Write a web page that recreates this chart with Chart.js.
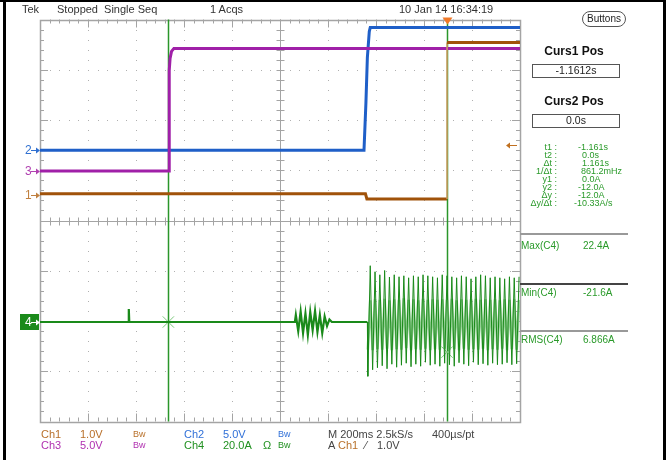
<!DOCTYPE html>
<html><head><meta charset="utf-8">
<script src="https://cdn.jsdelivr.net/npm/chart.js@4/dist/chart.umd.min.js"></script>
<style>
body{margin:0;background:#fff;}
#wrap{position:relative;width:666px;height:460px;overflow:hidden;background:#fff;font-family:"Liberation Sans",Arial,sans-serif;}
canvas{position:absolute;left:0;top:0;}
.t{position:absolute;white-space:pre;font-size:11px;line-height:12px;color:#333;}
.s{position:absolute;white-space:pre;font-size:10px;line-height:10px;color:#2a9a2a;}
.g{position:absolute;white-space:pre;font-size:9px;line-height:8px;color:#2a9a2a;}
.bar{position:absolute;background:#000;}
.box{position:absolute;border:1.5px solid #555;text-align:center;font-size:10.5px;line-height:11px;color:#222;box-sizing:border-box;}
.hd{position:absolute;font-weight:bold;font-size:12px;line-height:12px;color:#111;width:100px;text-align:center;}
.sep{position:absolute;left:520px;width:108px;}
.bw{font-size:9px;}
</style></head><body>
<div id="wrap">
<canvas id="c" width="666" height="460"></canvas>

<div class="bar" style="left:0;top:0;width:666px;height:2px"></div>
<div class="bar" style="left:3px;top:0;width:3px;height:460px"></div>
<div class="bar" style="left:663px;top:0;width:3px;height:460px"></div>

<div class="t" style="left:22px;top:3px">Tek</div>
<div class="t" style="left:57px;top:3px">Stopped  Single Seq</div>
<div class="t" style="left:210px;top:3px">1 Acqs</div>
<div class="t" style="left:399px;top:3px">10 Jan 14 16:34:19</div>

<div class="box" style="left:582px;top:11px;width:44px;height:16px;border-radius:8px;border-width:1px;font-size:10px;line-height:14px">Buttons</div>

<div class="hd" style="left:524px;top:45px">Curs1 Pos</div>
<div class="box" style="left:532px;top:64px;width:88px;height:14px">-1.1612s</div>
<div class="hd" style="left:524px;top:95px">Curs2 Pos</div>
<div class="box" style="left:532px;top:114px;width:88px;height:14px">0.0s</div>

<div class="g" style="left:500px;width:57px;text-align:right;top:143px">t1 :</div>
<div class="g" style="left:500px;width:57px;text-align:right;top:151px">t2 :</div>
<div class="g" style="left:500px;width:57px;text-align:right;top:159px">Δt :</div>
<div class="g" style="left:500px;width:57px;text-align:right;top:167px">1/Δt :</div>
<div class="g" style="left:500px;width:57px;text-align:right;top:175px">y1 :</div>
<div class="g" style="left:500px;width:57px;text-align:right;top:183px">y2 :</div>
<div class="g" style="left:500px;width:57px;text-align:right;top:191px">Δy :</div>
<div class="g" style="left:500px;width:57px;text-align:right;top:199px">Δy/Δt :</div>
<div class="g" style="left:578px;top:143px">-1.161s</div>
<div class="g" style="left:582px;top:151px">0.0s</div>
<div class="g" style="left:582px;top:159px">1.161s</div>
<div class="g" style="left:581px;top:167px">861.2mHz</div>
<div class="g" style="left:582px;top:175px">0.0A</div>
<div class="g" style="left:578px;top:183px">-12.0A</div>
<div class="g" style="left:578px;top:191px">-12.0A</div>
<div class="g" style="left:574px;top:199px">-10.33A/s</div>

<div class="sep" style="top:233px;height:2px;background:#999"></div>
<div class="s" style="left:521px;top:241px">Max(C4)</div>
<div class="s" style="left:583px;top:241px">22.4A</div>
<div class="sep" style="top:283px;height:1.5px;background:#444"></div>
<div class="s" style="left:521px;top:288px">Min(C4)</div>
<div class="s" style="left:583px;top:288px">-21.6A</div>
<div class="sep" style="top:330px;height:2px;background:#999"></div>
<div class="s" style="left:521px;top:335px">RMS(C4)</div>
<div class="s" style="left:583px;top:335px">6.866A</div>

<div class="t" style="left:41px;top:428px;color:#b8702a">Ch1</div>
<div class="t" style="left:80px;top:428px;color:#b8702a">1.0V</div>
<div class="t bw" style="left:133px;top:428px;color:#b8702a">Bw</div>
<div class="t" style="left:184px;top:428px;color:#3070d8">Ch2</div>
<div class="t" style="left:223px;top:428px;color:#3070d8">5.0V</div>
<div class="t bw" style="left:278px;top:428px;color:#3070d8">Bw</div>
<div class="t" style="left:328px;top:428px;color:#444">M 200ms 2.5kS/s</div>
<div class="t" style="left:432px;top:428px;color:#444">400µs/pt</div>
<div class="t" style="left:41px;top:439px;color:#b030b0">Ch3</div>
<div class="t" style="left:80px;top:439px;color:#b030b0">5.0V</div>
<div class="t bw" style="left:133px;top:439px;color:#b030b0">Bw</div>
<div class="t" style="left:184px;top:439px;color:#209020">Ch4</div>
<div class="t" style="left:223px;top:439px;color:#209020">20.0A</div>
<div class="t" style="left:263px;top:439px;color:#209020">Ω</div>
<div class="t bw" style="left:278px;top:439px;color:#209020">Bw</div>
<div class="t" style="left:328px;top:439px;color:#444">A</div>
<div class="t" style="left:338px;top:439px;color:#b8702a">Ch1</div>
<div class="t" style="left:365px;top:439px;color:#444">⁄</div>
<div class="t" style="left:377px;top:439px;color:#444">1.0V</div>
</div>

<script>
// ---- scope settings ----
const timeStart = -1.696;      // s at left edge of graticule
const timePerDiv = 0.2;        // 200 ms/div
const numDivX = 10, numDivY = 8;
const ch1PerDiv = 1.0,  ch1Pos = 0.51;   // V/div, ground marker (div)
const ch2PerDiv = 5.0,  ch2Pos = 1.40;
const ch3PerDiv = 5.0,  ch3Pos = 0.985;
const ch4PerDiv = 20.0, ch4Pos = -2.02;  // A/div
const cursor1 = -1.1612, cursor2 = 0.0;
const yCursor1 = 0.0, yCursor2 = -12.0;  // A on Ch4
const trigLevel = 1.0;                   // V on Ch1

// ---- Ch1 (V) ----
const ch1Times = [-1.696, -0.340, -0.334, 0.000, 0.000, 0.304];
const ch1Volts = [0.02, 0.02, -0.08, -0.08, 3.03, 3.03];
// ---- Ch2 (V) ----
const ch2Times = [-1.696, -0.346, -0.338, -0.332, -0.324, -0.320, 0.304];
const ch2Volts = [0.0, 0.0, 4.7, 9.2, 11.8, 12.2, 12.2];
// ---- Ch3 (V) ----
const ch3Times = [-1.696, -1.158, -1.1575, -1.154, -1.148, -1.138, 0.304];
const ch3Volts = [0.0, 0.0, 10.0, 11.2, 11.9, 12.2, 12.2];
// ---- Ch4 (A) ----
const ch4Times = [-1.696, -1.328, -1.326, -1.324, -0.634];
const ch4Amps  = [0.0, 0.0, 5.2, 0.0, 0.0];
const ch4HalfCycle = 0.01;   // 50 Hz mains half period
const ch4BurstStart = -0.630;
const ch4Burst = [2.8, -3.6, 4.2, -4.4, 3.4, -5.2, 4.0, -3.2, 4.4, -4.0, 2.8, -4.4, 2.2, -1.6, 1.0];
const ch4OscStart = -0.330;
const ch4OscPeaks = [-21.6, 22.4, -19.0, 20.0, -18.2, 18.8, -17.4, 20.5, -18.6, 17.9, -16.8, 18.8, -18.0, 18.0, -17.2, 18.4,
  -16.4, 17.6, -17.8, 18.4, -16.8, 18.0, -17.6, 18.8, -16.0, 18.4, -17.2, 18.0, -16.8, 17.6, -17.6, 18.8,
  -16.4, 18.4, -17.0, 18.0, -17.6, 17.6, -16.2, 18.4, -16.8, 18.0, -17.4, 17.2, -16.0, 18.0, -17.0, 18.8,
  -16.6, 18.4, -17.2, 17.6, -16.4, 18.0, -17.0, 17.6, -16.8, 17.2, -16.2, 18.0, -17.0, 17.6, -16.6, 18.0];
const ch4OscInner = [-11.0, 8.6, -11.2, 9.0, -10.8, 8.8, -11.0, 9.2, -10.6, 8.6, -11.2, 9.0, -10.8, 8.8, -11.0, 9.4,
  -10.4, 8.8, -11.2, 9.0, -10.8, 8.6, -11.0, 9.2, -10.6, 8.8, -11.2, 9.0, -10.8, 8.8, -11.0, 9.0,
  -10.6, 8.8, -11.0, 9.2, -10.8, 8.6, -11.2, 9.0, -10.6, 8.8, -11.0, 9.0, -10.8, 9.2, -11.0, 8.8,
  -10.6, 9.0, -11.2, 8.8, -10.8, 9.0, -11.0, 8.6, -10.6, 9.0, -11.2, 8.8, -10.8, 9.0, -11.0, 8.8];

// ---- build points (divisions) ----
const toDiv = (v, perDiv, pos) => pos + v / perDiv;
const pts = (ts, vs, perDiv, pos) => ts.map((t, i) => ({x: t, y: toDiv(vs[i], perDiv, pos)}));
const ch1Pts = pts(ch1Times, ch1Volts, ch1PerDiv, ch1Pos);
const ch2Pts = pts(ch2Times, ch2Volts, ch2PerDiv, ch2Pos);
const ch3Pts = pts(ch3Times, ch3Volts, ch3PerDiv, ch3Pos);
const ch4SlowPts = pts(ch4Times, ch4Amps, ch4PerDiv, ch4Pos);
ch4Burst.forEach((a, i) => ch4SlowPts.push({x: ch4BurstStart + i * ch4HalfCycle, y: toDiv(a, ch4PerDiv, ch4Pos)}));
ch4SlowPts.push({x: ch4BurstStart + ch4Burst.length * ch4HalfCycle, y: ch4Pos});
ch4SlowPts.push({x: ch4OscStart - 0.002, y: ch4Pos});
const ch4OscPts = [{x: ch4OscStart - 0.002, y: ch4Pos}];
ch4OscPeaks.forEach((a, i) => ch4OscPts.push({x: ch4OscStart + i * ch4HalfCycle, y: toDiv(a, ch4PerDiv, ch4Pos)}));
const ch4InnerPts = ch4OscInner.map((a, i) => ({x: ch4OscStart + i * ch4HalfCycle, y: toDiv(a, ch4PerDiv, ch4Pos)}));
const crossPts = [{x: cursor1, y: toDiv(yCursor1, ch4PerDiv, ch4Pos)}, {x: cursor2, y: toDiv(yCursor2, ch4PerDiv, ch4Pos)}];

const GRID = '#a4a4a4', DOT = '#b0b0b0';

const tekPlugin = {
  id: 'tek',
  beforeDatasetsDraw(chart) {
    const {ctx, chartArea: a, scales: {x, y}} = chart;
    const X = i => x.getPixelForValue(timeStart + i * timePerDiv);
    const Y = j => y.getPixelForValue(-numDivY / 2 + j);
    ctx.save();
    ctx.fillStyle = DOT;
    for (let i = 1; i < numDivX; i++) {
      if (i === numDivX / 2) continue;
      const px = Math.round(X(i));
      for (let k = 1; k < numDivY * 5; k++) ctx.fillRect(px, Math.round(Y(k / 5)), 1, 1);
    }
    for (let j = 1; j < numDivY; j++) {
      if (j === numDivY / 2) continue;
      const py = Math.round(Y(j));
      for (let k = 1; k < numDivX * 5; k++) ctx.fillRect(Math.round(X(k / 5)), py, 1, 1);
    }
    ctx.strokeStyle = GRID; ctx.lineWidth = 1;
    const cx = Math.round(X(numDivX / 2)) + 0.5, cy = Math.round(Y(numDivY / 2)) + 0.5;
    ctx.beginPath();
    ctx.moveTo(a.left, cy); ctx.lineTo(a.right, cy);
    ctx.moveTo(cx, a.top); ctx.lineTo(cx, a.bottom);
    for (let k = 1; k < numDivX * 5; k++) {
      const px = Math.round(X(k / 5)) + 0.5;
      ctx.moveTo(px, cy - 4); ctx.lineTo(px, cy + 4);
      const len = k % 5 === 0 ? 8 : 4;
      ctx.moveTo(px, a.top); ctx.lineTo(px, a.top + len);
      ctx.moveTo(px, a.bottom); ctx.lineTo(px, a.bottom - len);
    }
    for (let k = 1; k < numDivY * 5; k++) {
      const py = Math.round(Y(k / 5)) + 0.5;
      ctx.moveTo(cx - 4, py); ctx.lineTo(cx + 4, py);
      const len = k % 5 === 0 ? 8 : 4;
      ctx.moveTo(a.left, py); ctx.lineTo(a.left + len, py);
      ctx.moveTo(a.right, py); ctx.lineTo(a.right - len, py);
    }
    ctx.stroke();
    ctx.lineWidth = 1.5;
    ctx.strokeRect(Math.round(a.left) + 0.5, Math.round(a.top) + 0.5, Math.round(a.right - a.left), Math.round(a.bottom - a.top));
    // cursors
    ctx.strokeStyle = '#2a962a'; ctx.lineWidth = 1.5;
    [cursor1, cursor2].forEach(c => {
      const px = Math.round(x.getPixelForValue(c)) + 0.5;
      ctx.beginPath(); ctx.moveTo(px, a.top); ctx.lineTo(px, a.bottom); ctx.stroke();
    });
    ctx.restore();
  },
  afterDraw(chart) {
    const {ctx, chartArea: a, scales: {x, y}} = chart;
    ctx.save();
    ctx.font = '12px "Liberation Sans", Arial, sans-serif';
    ctx.textBaseline = 'middle';
    const arrowR = (py, col) => {
      ctx.strokeStyle = col; ctx.fillStyle = col; ctx.lineWidth = 1;
      ctx.beginPath(); ctx.moveTo(a.left - 9, py + 0.5); ctx.lineTo(a.left - 1, py + 0.5); ctx.stroke();
      ctx.beginPath(); ctx.moveTo(a.left, py + 0.5); ctx.lineTo(a.left - 4, py - 2.5); ctx.lineTo(a.left - 4, py + 3.5); ctx.closePath(); ctx.fill();
    };
    [[ch2Pos, '2', '#3070d0'], [ch3Pos, '3', '#b040b0'], [ch1Pos, '1', '#c08040']].forEach(([p, l, c]) => {
      const py = Math.round(y.getPixelForValue(p));
      ctx.fillStyle = c; ctx.fillText(l, a.left - 15, py + 1);
      arrowR(py, c);
    });
    const p4 = Math.round(y.getPixelForValue(ch4Pos));
    ctx.fillStyle = '#1a8a1a'; ctx.fillRect(a.left - 20, p4 - 8, 19, 16);
    ctx.fillStyle = '#fff'; ctx.fillText('4', a.left - 15, p4 + 1);
    arrowR(p4, '#fff');
    // trigger level arrow (right edge)
    const pt = Math.round(y.getPixelForValue(ch1Pos + trigLevel / ch1PerDiv)) + 0.5;
    ctx.strokeStyle = '#c07020'; ctx.fillStyle = '#c07020'; ctx.lineWidth = 1;
    ctx.beginPath(); ctx.moveTo(a.right - 3, pt); ctx.lineTo(a.right - 12, pt); ctx.stroke();
    ctx.beginPath(); ctx.moveTo(a.right - 14, pt); ctx.lineTo(a.right - 10, pt - 3); ctx.lineTo(a.right - 10, pt + 3); ctx.closePath(); ctx.fill();
    // trigger position marker
    const tx = Math.round(x.getPixelForValue(0)) + 0.5;
    ctx.fillStyle = '#f07828';
    ctx.beginPath(); ctx.moveTo(tx - 5, a.top - 2); ctx.lineTo(tx + 5, a.top - 2); ctx.lineTo(tx, a.top + 5); ctx.closePath(); ctx.fill();
    ctx.restore();
  }
};

new Chart(document.getElementById('c'), {
  type: 'line',
  data: {
    datasets: [
      {label: 'Ch4', data: ch4SlowPts, borderColor: '#1a8a1a', borderWidth: 2.2, pointRadius: 0},
      {label: 'Ch4 osc', data: ch4OscPts, borderColor: '#1a8a1a', borderWidth: 1, pointRadius: 0},
      {label: 'Ch4 inner', data: ch4InnerPts, borderColor: '#94d094', borderWidth: 2.6, pointRadius: 0},
      {label: 'Ch1', data: ch1Pts, borderColor: '#a0520a', borderWidth: 3, pointRadius: 0,
        segment: {borderColor: c => c.p0.parsed.x === c.p1.parsed.x ? '#d09a60' : undefined, borderWidth: c => c.p0.parsed.x === c.p1.parsed.x ? 1.5 : undefined}},
      {label: 'Ch3', data: ch3Pts, borderColor: '#a020a8', borderWidth: 3, pointRadius: 0},
      {label: 'Ch2', data: ch2Pts, borderColor: '#1f5fc8', borderWidth: 3, pointRadius: 0},
      {type: 'scatter', label: 'cursor marks', data: crossPts, pointStyle: 'crossRot', pointRadius: 8, borderColor: '#7cc87c', borderWidth: 1, backgroundColor: 'transparent'}
    ]
  },
  options: {
    responsive: false, devicePixelRatio: 1, animation: false,
    layout: {padding: {left: 40, top: 19.5, right: 146, bottom: 38.5}},
    plugins: {legend: {display: false}, tooltip: {enabled: false}},
    scales: {
      x: {type: 'linear', min: timeStart, max: timeStart + numDivX * timePerDiv, display: false},
      y: {type: 'linear', min: -numDivY / 2, max: numDivY / 2, display: false}
    },
    elements: {line: {tension: 0}}
  },
  plugins: [tekPlugin]
});
</script>
</body></html>
